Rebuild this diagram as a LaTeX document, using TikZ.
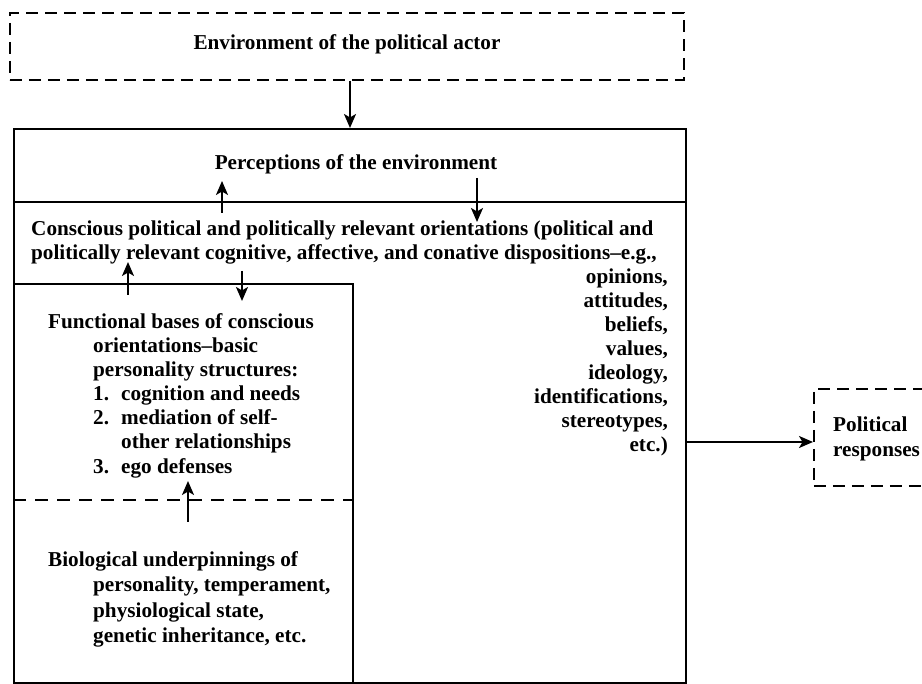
\documentclass[tikz,border=0pt]{standalone}
\usepackage{fontspec}
\setmainfont{Liberation Serif}
\usetikzlibrary{arrows.meta}
\begin{document}
\begin{tikzpicture}[x=1pt,y=-1pt,
  box/.style={draw, line width=1.8pt, inner sep=0pt, rectangle},
  dbox/.style={draw, line width=1.7pt, inner sep=0pt, rectangle, dash pattern=on 12pt off 7pt},
  rule/.style={line width=1.8pt},
  drule/.style={line width=1.7pt, dash pattern=on 13pt off 9pt},
  arr/.style={line width=2pt, -{Stealth[length=14pt,width=12pt,inset=3.5pt]}},
  txt/.style={inner sep=0pt, font=\fontsize{21.2}{24}\selectfont\bfseries},
  lt/.style={txt, anchor=base west},
  rt/.style={txt, anchor=base east},
]
\useasboundingbox (0,0) rectangle (922,684);
\begin{scope}
\clip (0,0) rectangle (922,684);
% boxes
\node[dbox, anchor=north west, minimum width=674pt, minimum height=67pt] (env) at (9,12) {};
\node[box, anchor=north west, minimum width=672pt, minimum height=554pt] (actor) at (13,128) {};
\node[box, anchor=north west, minimum width=339pt, minimum height=399pt] (func) at (13,283) {};
\node[dbox, anchor=north west, minimum width=140pt, minimum height=97pt] (resp) at (813,388) {};
% dividers
\coordinate (pdiv) at (0,202);
\coordinate (bdiv) at (0,500);
\draw[rule] (actor.west |- pdiv) -- (actor.east |- pdiv);
\draw[drule] (func.west |- bdiv) -- (func.east |- bdiv);
% texts
\node[txt, anchor=base] (tenv) at (347,50) {Environment of the political actor};
\node[txt, anchor=base] (tperc) at (356,170) {Perceptions of the environment};
\node[lt] (c1) at (31,236) {Conscious political and politically relevant orientations (political and};
\node[lt] (c2) at (31,260) {politically relevant cognitive, affective, and conative dispositions--e.g.,};
\node[rt] (c3) at (668,284) {opinions,};
\node[rt] (c4) at (668,308) {attitudes,};
\node[rt] (c5) at (668,332) {beliefs,};
\node[rt] (c6) at (668,356) {values,};
\node[rt] (c7) at (668,380) {ideology,};
\node[rt] (c8) at (668,404) {identifications,};
\node[rt] (c9) at (668,428) {stereotypes,};
\node[rt] (c10) at (668,452) {etc.)};
\node[lt] (f1) at (48,329) {Functional bases of conscious};
\node[lt] (f2) at (93,353) {orientations--basic};
\node[lt] (f3) at (93,377) {personality structures:};
\node[lt] (f4) at (93,401) {\makebox[28pt][l]{1.}cognition and needs};
\node[lt] (f5) at (93,425) {\makebox[28pt][l]{2.}mediation of self-};
\node[lt] (f6) at (121,449) {other relationships};
\node[lt] (f7) at (93,474) {\makebox[28pt][l]{3.}ego defenses};
\node[lt] (b1) at (48,567) {Biological underpinnings of};
\node[lt] (b2) at (93,592) {personality, temperament,};
\node[lt] (b3) at (93,618) {physiological state,};
\node[lt] (b4) at (93,642) {genetic inheritance, etc.};
\node[lt] (r1) at (833,432) {Political};
\node[lt] (r2) at (833,457) {responses};
% arrows
\coordinate (x1) at (350,0);
\draw[arr] (env.south -| x1) -- (actor.north -| x1);
\coordinate (u1a) at (222,213);
\coordinate (u1b) at (222,181);
\draw[arr] (u1a) -- (u1b);
\coordinate (d1a) at (477,178);
\coordinate (d1b) at (477,222);
\draw[arr] (d1a) -- (d1b);
\coordinate (u2a) at (128,295);
\coordinate (u2b) at (128,262);
\draw[arr] (u2a) -- (u2b);
\coordinate (d2a) at (242,271);
\coordinate (d2b) at (242,301);
\draw[arr] (d2a) -- (d2b);
\coordinate (u3a) at (188,522);
\coordinate (u3b) at (188,481);
\draw[arr] (u3a) -- (u3b);
\coordinate (y1) at (0,442);
\draw[arr] (actor.east |- y1) -- (resp.west |- y1);
\end{scope}
\end{tikzpicture}
\end{document}
